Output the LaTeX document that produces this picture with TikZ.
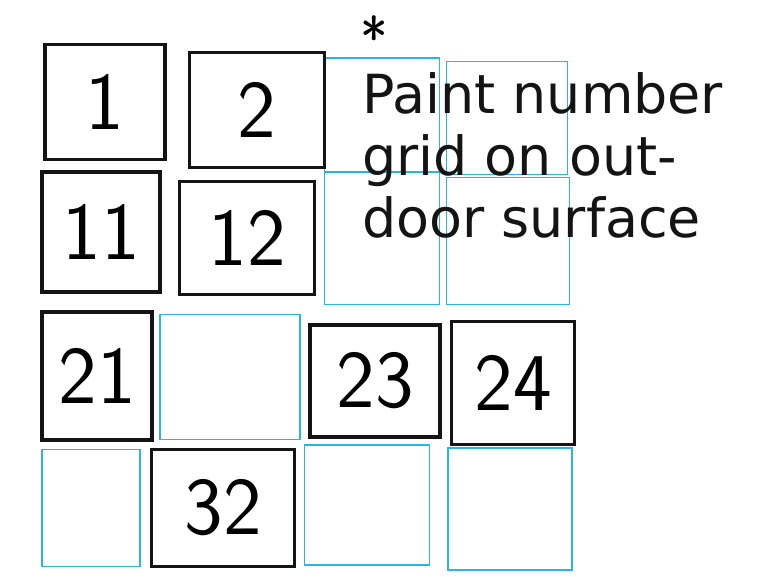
\documentclass[tikz,border=0pt]{standalone}
\usepackage{fontspec}
\usepackage{tikz}
\usetikzlibrary{positioning}
\newfontfamily\notefont{DejaVu Sans}
\definecolor{penblk}{HTML}{141414}
\definecolor{penblue}{HTML}{2DB4E6}
\tikzset{
  numcell/.style 2 args={rectangle, draw=penblk, line width=3.2pt, fill=white,
                minimum width=#1, minimum height=#2, inner sep=0pt,
                font=\sffamily\fontsize{70}{70}\selectfont},
  blankcell/.style 2 args={rectangle, draw=penblue, line width=1.3pt,
                minimum width=#1, minimum height=#2, inner sep=0pt},
  note/.style={align=left, text=penblk, inner sep=0pt,
               font=\notefont\fontsize{46}{53}\selectfont},
}
\begin{document}
\begin{tikzpicture}[x=0.03cm, y=-0.03cm]
    \fill[white] (0,0) rectangle (765,576);
    \useasboundingbox (0,0) rectangle (765,576);
    % empty cells, blue pencil
    \node[blankcell={3.45cm}{3.42cm}] (b13) at (382,115) {};
    \node[blankcell={3.63cm}{3.39cm}] (b14) at (507,118) {};
    \node[blankcell={3.45cm}{3.99cm}] (b23) at (382,238) {};
    \node[blankcell={3.69cm}{3.81cm}] (b24) at (508,241) {};
    \node[blankcell={4.20cm}{3.75cm}] (b32) at (230,377) {};
    \node[blankcell={2.94cm}{3.51cm}] (b41) at (91,508) {};
    \node[blankcell={3.75cm}{3.60cm}] (b43) at (367,505) {};
    \node[blankcell={3.72cm}{3.66cm}] (b44) at (510,509) {};
    % numbered cells, black marker
    \node[numcell={3.60cm}{3.45cm}] (c1) at (105,102) {1};
    \node[numcell={4.05cm}{3.45cm}] (c2) at (257,110) {2};
    \node[numcell={3.54cm}{3.60cm}] (c11) at (101,232) {11};
    \node[numcell={4.05cm}{3.39cm}] (c12) at (247,238) {12};
    \node[numcell={3.30cm}{3.84cm}] (c21) at (97,376) {21};
    \node[numcell={3.90cm}{3.36cm}] (c23) at (375,381) {23};
    \node[numcell={3.69cm}{3.69cm}] (c24) at (513,383) {24};
    \node[numcell={4.29cm}{3.51cm}] (c32) at (223,508) {32};
    % note
    \node[font=\sffamily\fontsize{50}{50}\selectfont, inner sep=0pt] (star) at (374,38) {*};
    \node[note, anchor=north west] (txt) at (362,72)
      {Paint number\\grid on out-\\door surface};
  \end{tikzpicture}
\end{document}
